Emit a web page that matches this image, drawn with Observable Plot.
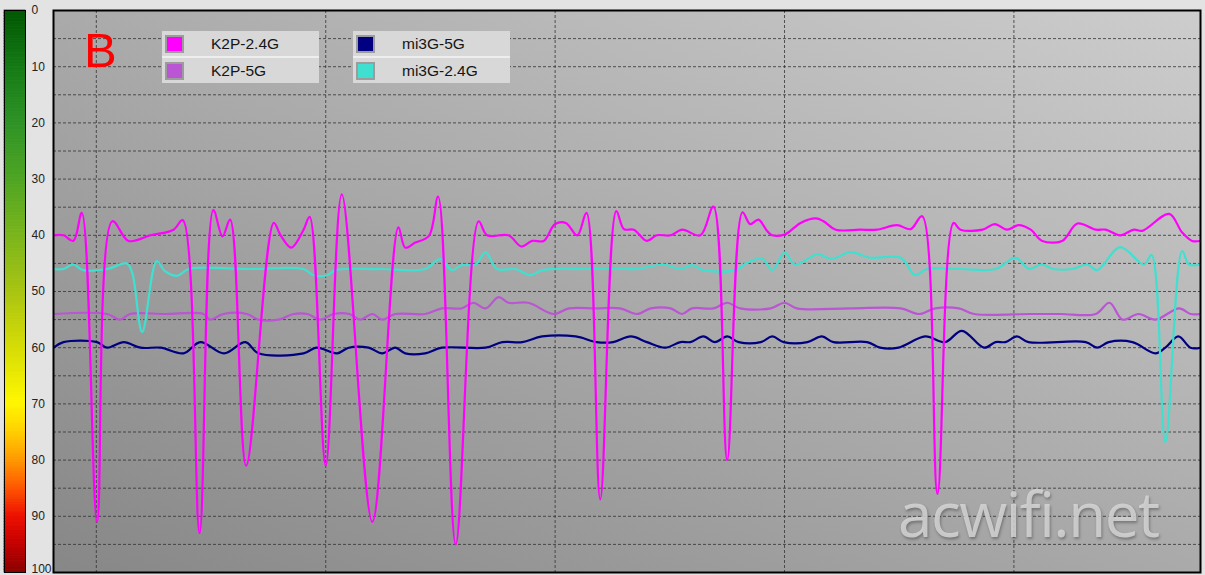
<!DOCTYPE html>
<html>
<head>
<meta charset="utf-8">
<script src="https://cdn.jsdelivr.net/npm/d3@7"></script>
<script src="https://cdn.jsdelivr.net/npm/@observablehq/plot@0.6"></script>
<style>
html,body{margin:0;padding:0;background:#e3e3e3;width:1205px;height:575px;overflow:hidden;font-family:"Liberation Sans",Arial,sans-serif;}
#wrap{position:relative;width:1205px;height:575px;}
#bar{position:absolute;left:0;top:0;}
#main{position:absolute;left:50px;top:0;}
.lg{position:absolute;background:#eeeeee;}
.row{position:relative;height:25px;background:#d8d8d8;}
.row + .row{margin-top:2px;}
.sw{position:absolute;left:3px;top:4px;width:15px;height:14px;border:2px solid #9c9c9c;}
.lb{position:absolute;left:49px;top:0;line-height:25px;font-size:15.5px;color:#151515;}
#tag{position:absolute;left:84px;top:26px;font-size:49px;line-height:48px;color:#ff0000;}
#wm{position:absolute;left:898px;top:478px;font-family:"Open Sans",sans-serif;font-size:62px;line-height:70px;letter-spacing:-1.5px;color:rgba(214,214,214,0.85);text-shadow:1px 2px 3px rgba(0,0,0,0.3);}
</style>
</head>
<body>
<div id="wrap">
  <div id="bar"></div>
  <div id="main"></div>
  <div id="tag">B</div>
  <div id="wm">acwifi.net</div>
</div>
<script>
// ---- data: [time (s), signal (-dBm)] ----
const seriesNames = ["K2P-2.4G", "K2P-5G", "mi3G-5G", "mi3G-2.4G"];
const seriesColors = ["#ff00ff", "#ba55d3", "#000080", "#40e0d0"];
const yTicks = [0,10,20,30,40,50,60,70,80,90];
const yLastTick = [100];
const xGridTicks = [0, 30, 60, 90, 120];

const k2p24 = [[-5.6,40],[-4.3,40],[-3.0,41],[-1.9,36],[0.1,91],[2.1,37.5],[4.2,41],[7.1,40],[10.1,39],[11.3,37.3],[13.5,93],[15.3,35.5],[16.5,40.2],[17.5,37.2],[19.6,81],[23.2,37.8],[24.1,40],[25.5,42.2],[27.1,39],[27.9,36.7],[30.0,81],[32.1,32.7],[36.1,91],[39.5,38.6],[40.4,42.2],[41.7,41.3],[43.5,40.1],[44.7,33.1],[47.0,95],[50.0,37.5],[51.1,40],[53.9,40],[55.6,42],[57.0,41],[58.5,41],[60.0,38],[61.4,37.8],[62.9,40],[64.1,36],[65.9,87],[68.0,35.7],[69.0,38.9],[70.3,39],[72.0,41],[73.3,40],[75.1,40],[76.6,39],[79.0,40],[80.7,34.9],[82.5,80],[84.5,35.9],[85.5,38],[86.6,37.2],[87.7,39.2],[88.4,40],[90.1,39.8],[92.1,37.8],[94.1,37],[95.1,37.5],[96.7,39],[99.9,39],[102.1,39],[104.7,38.2],[106.5,38.9],[108.0,36.6],[110.0,86],[112.1,37.8],[113.0,39],[115.9,39],[117.5,38],[119.1,39],[120.6,38.2],[122.2,39],[123.7,41],[126.3,41],[128.3,37.9],[130.7,39],[132.0,39],[133.9,40],[135.7,39],[136.8,39.2],[140.3,36.2],[142.0,39.5],[143.3,41],[144.4,41]];

const k2p5 = [[-5.6,54],[1.4,54],[3.1,55],[4.4,54],[9.0,54],[14.0,54],[14.9,55],[16.6,54],[19.7,54],[21.2,55],[23.8,55],[25.8,54],[27.6,54],[29.3,55],[31.0,54],[33.1,54],[34.5,55],[36.1,54],[37.4,55],[39.1,54],[43.0,54],[45.2,53],[47.8,53],[49.3,52],[50.9,53],[52.6,51],[53.9,52],[56.5,52],[59.8,54],[61.8,53],[65.3,53],[68.5,53],[70.7,54],[72.5,53],[75.1,53],[76.6,54],[77.9,53],[80.7,53],[82.5,52],[84.2,53],[88.2,53],[90.0,52],[91.6,53],[98.6,53],[105.2,53],[107.6,54],[109.7,53],[112.8,53],[114.8,54],[122.2,54],[126.1,54],[130.7,54],[132.5,52],[134.2,55],[136.3,54],[138.5,55],[141.6,53],[143.1,54],[144.4,54]];

const mi5 = [[-5.6,60],[-4.3,59],[0.1,59],[1.4,60],[3.6,59],[5.8,60],[8.4,60],[11.4,61],[13.6,59],[16.7,61],[19.5,59],[21.2,61],[27.1,61],[28.8,60],[31.5,61],[33.0,60],[35.6,60],[37.4,61],[39.1,60],[40.4,61],[43.0,61],[45.2,60],[50.9,60],[53.1,59],[55.7,59],[58.3,58],[62.7,58],[65.4,59],[67.6,59],[69.9,58],[72.0,59],[74.4,60],[76.4,59],[77.7,59],[79.4,58],[80.9,59],[82.5,58],[84.0,59],[86.9,59],[88.4,58],[89.9,59],[93.0,59],[94.9,58],[96.4,59],[100.8,59],[102.5,60],[104.9,60],[108.4,58],[111.0,59],[113.2,57],[116.1,60],[117.6,59],[118.9,59],[120.4,58],[121.9,59],[129.4,59],[130.9,60],[132.4,59],[135.5,59],[138.5,61],[139.8,60],[141.5,58],[143.1,60],[144.4,60]];

const mi24 = [[-5.6,46],[-4.3,46],[-3.0,45.2],[-1.7,46.2],[1.4,46],[4.0,45],[4.7,46.7],[6.0,57.2],[7.9,44.6],[9.0,46.4],[10.6,47.2],[12.1,46],[20.1,46],[27.1,46],[28.4,47.1],[30.2,47.1],[31.3,46.2],[37.1,46],[43.0,46],[45.0,44.2],[46.5,46.2],[47.8,45.3],[49.6,45.2],[50.9,43],[52.4,46],[54.8,46],[56.8,47.1],[58.3,46.2],[63.3,46],[69.2,46],[70.7,46],[74.2,45.2],[76.4,46],[77.9,45.3],[79.4,46.2],[83.6,46.2],[85.1,44.9],[87.1,44.2],[88.4,46.2],[90.0,43.1],[91.4,45.2],[94.3,43.4],[96.2,44.2],[98.6,43],[101.2,44],[105.2,44],[107.1,47.1],[108.6,46],[113.0,46],[117.6,46],[120.2,44],[122.0,46],[123.6,45.2],[125.2,46],[127.6,46],[129.6,45.2],[130.9,46.2],[133.9,42.1],[137.0,45.2],[138.0,43.5],[139.8,76.8],[142.0,42.8],[142.9,45.2],[144.4,45.2]];

const seriesData = [k2p24, k2p5, mi5, mi24];

// colour bar stops
const barStops = [0,10,20,30,40,50,60,70,75,80,85,90,95,100];
const barColors = ["#005600","#147a14","#2e9326","#4ea523","#7ab51c","#a8c412","#d6dc06","#fff700","#ffd000","#ff9a00","#ff5800","#ee1000","#c40000","#8c0000"];

const H = 575;

// ---- colour bar with axis ----
const bar = Plot.plot({
  width: 50, height: H,
  marginLeft: 4, marginRight: 25, marginTop: 10, marginBottom: 3,
  style: {background: "transparent", fontFamily: "'Liberation Sans', Arial, sans-serif", fontSize: "12px", color: "#222", overflow: "visible"},
  x: {axis: null},
  y: {domain: [0, 100], reverse: true, axis: null},
  color: {type: "linear", domain: barStops, range: barColors, interpolate: "rgb"},
  marks: [
    Plot.rect(d3.range(0, 100, 0.5), {y1: d => d, y2: d => d + 0.5, fill: d => d + 0.25, stroke: d => d + 0.25, strokeWidth: 0.8}),
    Plot.frame({stroke: "#000", strokeWidth: 1}),
    Plot.axisY(yTicks, {anchor: "right", tickSize: 0, tickPadding: 6, fill: "#222"}),
    Plot.axisY(yLastTick, {anchor: "right", tickSize: 0, tickPadding: 6, fill: "#222", dy: -3})
  ]
});
document.getElementById("bar").appendChild(bar);

// ---- main chart ----
const order = [2, 1, 3, 0];
const main = Plot.plot({
  width: 1155, height: H,
  marginLeft: 3, marginRight: 5, marginTop: 10, marginBottom: 3,
  style: {background: "transparent"},
  x: {domain: [-5.6, 144.4], axis: null},
  y: {domain: [0, 100], reverse: true, axis: null},
  marks: [
    Plot.frame({fill: "url(#bgGrad)"}),
    Plot.gridY(d3.range(5, 100, 5), {stroke: "#333", strokeOpacity: 0.8, strokeDasharray: "3,2"}),
    Plot.gridX(xGridTicks, {stroke: "#333", strokeOpacity: 0.8, strokeDasharray: "3,2"}),
    ...order.map(i => Plot.line(seriesData[i], {
      x: d => d[0], y: d => d[1], stroke: seriesColors[i], strokeWidth: 2.2,
      curve: "catmull-rom", clip: true
    })),
    Plot.frame({stroke: "#000", strokeWidth: 2})
  ]
});
const defs = d3.select(main).insert("defs", ":first-child");
const g = defs.append("linearGradient").attr("id", "bgGrad")
  .attr("x1", 0).attr("y1", 1).attr("x2", 1).attr("y2", 0);
g.append("stop").attr("offset", "0%").attr("stop-color", "#878787");
g.append("stop").attr("offset", "100%").attr("stop-color", "#cdcdcd");
document.getElementById("main").appendChild(main);

// ---- legend (two boxes) ----
const boxes = [{left: 162, items: [0, 1]}, {left: 353, items: [2, 3]}];
const wrap = document.getElementById("wrap");
boxes.forEach(b => {
  const box = document.createElement("div");
  box.className = "lg";
  box.style.left = b.left + "px";
  box.style.top = "31px";
  box.style.width = "157px";
  b.items.forEach(i => {
    const row = document.createElement("div");
    row.className = "row";
    const sw = document.createElement("span");
    sw.className = "sw";
    sw.style.background = seriesColors[i];
    const lb = document.createElement("span");
    lb.className = "lb";
    lb.textContent = seriesNames[i];
    row.appendChild(sw); row.appendChild(lb);
    box.appendChild(row);
  });
  wrap.appendChild(box);
});
</script>
</body>
</html>
